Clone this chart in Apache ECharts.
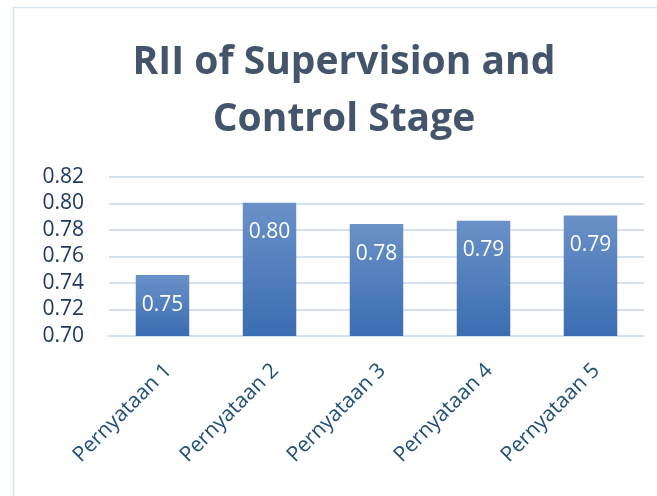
<!DOCTYPE html>
<html>
<head>
<meta charset="utf-8">
<script src="https://cdn.jsdelivr.net/npm/echarts@6/dist/echarts.min.js"></script>
<style>
html,body{margin:0;padding:0;background:#fff;}
#main{width:657px;height:496px;}
</style>
</head>
<body>
<div id="main"></div>
<script>
const categories = ['Pernyataan 1', 'Pernyataan 2', 'Pernyataan 3', 'Pernyataan 4', 'Pernyataan 5'];
const riiValues = [0.746, 0.8005, 0.7845, 0.787, 0.791];
const yTicks = [0.70, 0.72, 0.74, 0.76, 0.78, 0.80, 0.82];
const titleText = 'RII of Supervision and\nControl Stage';

const chart = echarts.init(document.getElementById('main'), null, {renderer: 'canvas'});
const FONT = '"Open Sans", sans-serif';
chart.setOption({
  animation: false,
  backgroundColor: '#fff',
  graphic: [{
    type: 'rect', z: -1, silent: true,
    shape: {x: 13.5, y: 7.5, width: 700, height: 600},
    style: {fill: 'none', stroke: '#DAE5F3', lineWidth: 1.5}
  }],
  title: {
    text: titleText,
    left: 339, top: 29, textAlign: 'center',
    textStyle: {fontFamily: FONT, fontWeight: 'bold', fontSize: 39, color: '#44546A', lineHeight: 57}
  },
  grid: {left: 109, right: 13, top: 177, bottom: 160, containLabel: false},
  xAxis: {
    type: 'category',
    data: categories,
    axisLine: {show: true, lineStyle: {color: '#D6E1F0', width: 2}},
    axisTick: {show: false},
    axisLabel: {rotate: 45, margin: 37, fontFamily: FONT, fontSize: 21, color: '#1F4E79', interval: 0,
      padding: [0, -8, 0, 0]}
  },
  yAxis: {
    type: 'value',
    min: yTicks[0], max: yTicks[yTicks.length - 1], interval: 0.02,
    axisLine: {show: false}, axisTick: {show: false},
    splitLine: {lineStyle: {color: '#D6E1F0', width: 2}},
    axisLabel: {fontFamily: FONT, fontSize: 21, color: '#1F3864', margin: 25,
      formatter: v => v.toFixed(2)}
  },
  series: [{
    type: 'bar',
    data: riiValues,
    barWidth: '50%',
    itemStyle: {
      color: new echarts.graphic.LinearGradient(0, 0, 0, 1, [
        {offset: 0, color: '#6A91C8'},
        {offset: 1, color: '#3B6DB2'}
      ])
    },
    label: {
      show: true, position: 'insideTop', distance: 19,
      fontFamily: FONT, fontSize: 21, color: '#fff',
      formatter: p => p.value.toFixed(2)
    }
  }]
});
</script>
</body>
</html>
